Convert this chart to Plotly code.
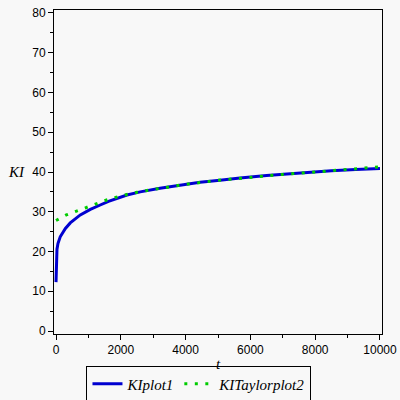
import plotly.graph_objects as go

t_plot1 = [0, 5, 15, 30, 60, 130, 290, 440, 750, 1060, 1365, 1620, 2190, 2600,
           3210, 3830, 4445, 5060, 5680, 6500, 7525, 8500, 9250, 10000]
ki_plot1 = [12.3, 16.0, 19.0, 20.6, 22.0, 23.7, 25.8, 27.2, 29.2, 30.6, 31.7, 32.6,
            34.2, 35.0, 35.9, 36.6, 37.4, 37.9, 38.5, 39.1, 39.8, 40.3, 40.6, 40.9]

t_taylor2 = [0, 317, 615, 924, 1233, 1540, 2000, 2500, 3000, 3500, 4000, 5000,
             6000, 7000, 8000, 9000, 10000]
ki_taylor2 = [27.8, 29.2, 30.1, 31.1, 32.1, 32.9, 34.0, 34.9, 35.6, 36.3, 36.9,
              37.9, 38.7, 39.4, 40.0, 40.6, 41.3]

x_ticks = [0, 2000, 4000, 6000, 8000, 10000]
x_ticklabels = ["0", "2000", "4000", "6000", "8000", "10000"]
y_ticks = [0, 10, 20, 30, 40, 50, 60, 70, 80]
y_ticklabels = ["0", "10", "20", "30", "40", "50", "60", "70", "80"]

BG = "#f8f8f8"
tick_font = dict(family="Liberation Sans, Arial, sans-serif", size=12, color="black")
serif_it = dict(family="Liberation Serif, Times New Roman, serif", size=15, color="black", style="italic")

fig = go.Figure()
fig.add_trace(go.Scatter(x=t_plot1, y=ki_plot1, mode="lines", name="KIplot1",
                         line=dict(color="#0000d0", width=3)))
fig.add_trace(go.Scatter(x=t_taylor2, y=ki_taylor2, mode="lines", name="KITaylorplot2",
                         line=dict(color="#00cc00", width=3, dash="3px,7.5px")))

L, R, T, B = 54, 18, 10, 66
fig.update_layout(
    template="none",
    width=400, height=400,
    margin=dict(l=L, r=R, t=T, b=B, autoexpand=False),
    paper_bgcolor=BG, plot_bgcolor=BG,
    showlegend=True,
    legend=dict(orientation="h", x=0.442, xanchor="center", y=-0.1, yanchor="top",
                bgcolor=BG, bordercolor="black", borderwidth=1, font=serif_it,
                itemwidth=30, tracegroupgap=0),
    xaxis=dict(range=[-62, 10062], tickvals=x_ticks, ticktext=x_ticklabels,
               ticks="outside", ticklen=5,
               tickcolor="black", showline=True, linecolor="black", linewidth=1,
               mirror=True, showgrid=False, zeroline=False, tickfont=tick_font,
               automargin=False,
               minor=dict(dtick=1000, ticks="outside", ticklen=3, tickcolor="black", showgrid=False),
               title=dict(text="t", font=serif_it, standoff=2)),
    yaxis=dict(range=[-0.75, 80.75], tickvals=y_ticks, ticktext=y_ticklabels,
               ticks="outside", ticklen=5,
               tickcolor="black", showline=True, linecolor="black", linewidth=1,
               mirror=True, showgrid=False, zeroline=False, tickfont=tick_font,
               automargin=False,
               minor=dict(dtick=5, ticks="outside", ticklen=3, tickcolor="black", showgrid=False)),
    annotations=[dict(text="KI", x=(16 - L) / (400 - L - R), y=40, xref="paper", yref="y",
                      showarrow=False, font=serif_it, xanchor="center", yanchor="middle")],
)

fig.write_html("out.html", config={"displayModeBar": False},
               post_script="document.body.style.margin='0';document.body.style.background='%s';" % BG)
